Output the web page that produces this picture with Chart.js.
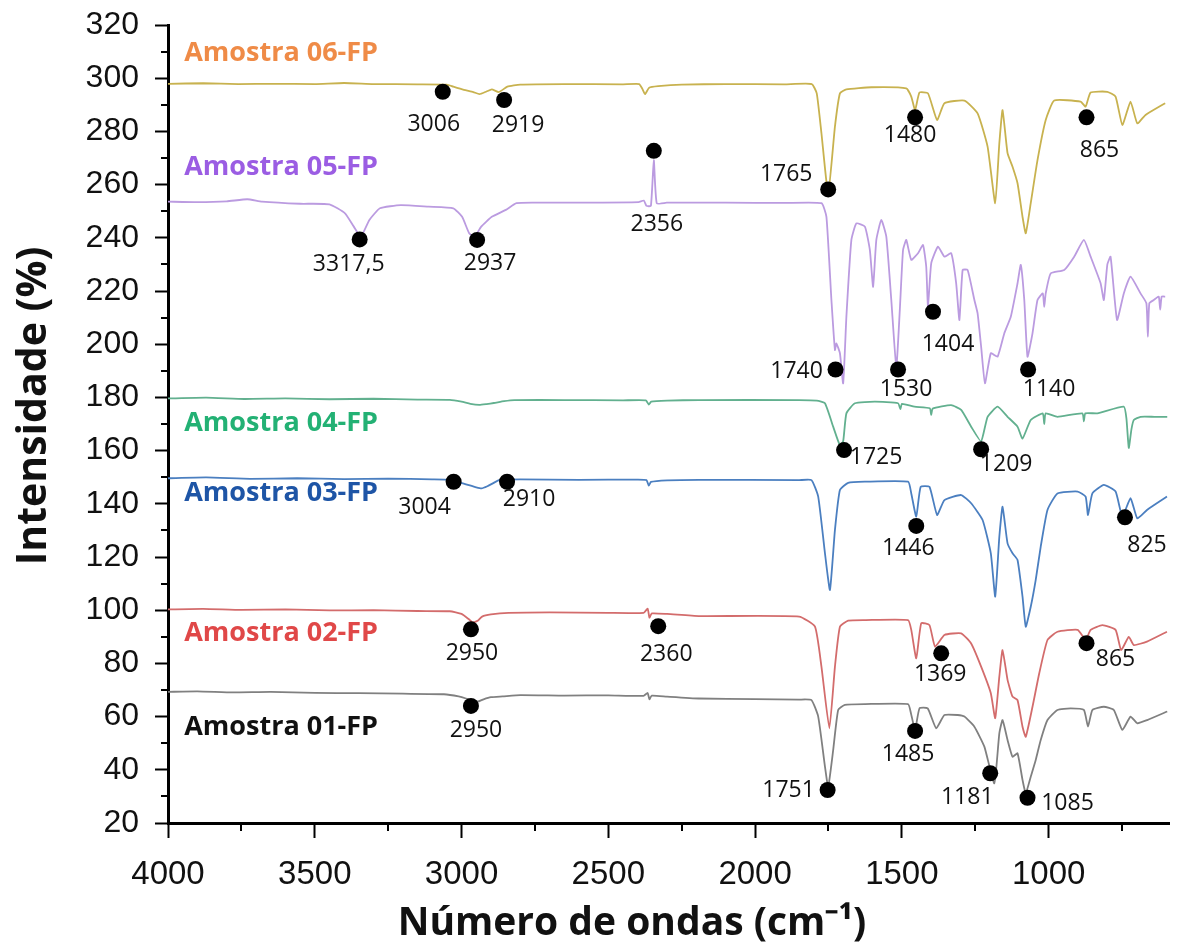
<!DOCTYPE html>
<html>
<head>
<meta charset="utf-8">
<script src="https://cdn.jsdelivr.net/npm/chart.js@4.4.1/dist/chart.umd.min.js"></script>
<style>
  html, body { margin: 0; padding: 0; background: #fff; }
  canvas { display: block; }
</style>
</head>
<body>
<canvas id="ftir" width="1177" height="949"></canvas>
<script>
// Spectra: [wavenumber cm-1, intensity %]
const amostra01 = [[4000,69.3],[3900,69.5],[3780,69.1],[3650,69.3],[3500,68.9],[3350,68.8],[3200,68.6],[3060,68.4],[3010,67.6],[2985,66.8],[2962,65.8],[2945,65.6],[2925,66.5],[2900,67.3],[2860,67.6],[2800,68.1],[2650,67.9],[2500,68.0],[2380,67.8],[2366,68.9],[2360,66.5],[2352,67.9],[2300,67.5],[2192,66.8],[2000,66.6],[1850,66.4],[1808,66.2],[1785,60.0],[1762,41.2],[1751,33.6],[1734,47.4],[1717,62.5],[1694,64.4],[1625,64.7],[1479,64.7],[1469,61.2],[1455,55.0],[1440,63.1],[1412,63.1],[1383,55.6],[1355,60.6],[1310,60.6],[1287,60.0],[1253,56.2],[1219,48.7],[1185,34.9],[1168,53.7],[1157,58.7],[1140,51.2],[1123,44.9],[1106,46.2],[1089,36.2],[1078,31.2],[1061,37.4],[1044,43.7],[1027,51.2],[1004,58.7],[970,62.5],[925,63.1],[880,62.5],[866,56.2],[851,62.5],[812,63.7],[778,62.5],[749,55.0],[721,60.0],[698,57.5],[664,58.7],[596,61.9]];

const amostra02 = [[4000,100.3],[3880,100.5],[3750,100.1],[3600,100.3],[3450,99.9],[3300,100.0],[3150,99.7],[3040,99.6],[3000,98.6],[2975,96.6],[2962,95.4],[2945,96.0],[2930,97.6],[2900,98.4],[2840,99.0],[2700,99.2],[2500,99.0],[2380,99.0],[2366,100.6],[2360,97.2],[2352,98.8],[2300,98.6],[2192,97.8],[1850,97.6],[1796,93.8],[1774,78.8],[1747,55.6],[1728,78.8],[1711,93.8],[1683,96.1],[1626,96.3],[1479,96.3],[1468,92.6],[1451,81.9],[1434,95.1],[1406,94.4],[1387,86.3],[1355,90.7],[1298,91.3],[1264,87.5],[1230,78.8],[1197,68.8],[1182,59.4],[1168,75.0],[1157,85.0],[1140,73.8],[1123,67.5],[1106,66.2],[1089,56.2],[1078,52.4],[1055,63.7],[1032,76.3],[1004,88.8],[970,91.9],[901,92.6],[874,88.8],[857,92.6],[817,94.4],[772,92.6],[753,85.0],[727,90.0],[710,86.9],[665,88.2],[597,91.9]];

const amostra03 = [[4000,149.6],[3870,149.9],[3720,149.4],[3560,149.6],[3400,149.3],[3250,149.5],[3100,149.2],[3040,149.0],[3005,148.0],[2975,147.0],[2950,146.2],[2932,145.8],[2912,146.6],[2895,147.6],[2870,149.0],[2800,149.2],[2600,149.0],[2400,149.1],[2370,148.9],[2362,146.8],[2355,148.2],[2300,148.8],[2192,149.0],[1850,148.9],[1808,148.9],[1785,142.7],[1762,121.4],[1745,107.6],[1728,130.2],[1711,145.2],[1683,147.9],[1626,148.3],[1479,148.3],[1468,143.9],[1451,135.2],[1436,146.4],[1406,146.4],[1380,135.8],[1355,141.4],[1298,143.3],[1264,140.2],[1225,133.9],[1197,121.4],[1182,105.1],[1168,127.6],[1157,138.9],[1140,125.1],[1123,121.4],[1106,118.9],[1089,105.1],[1078,93.8],[1061,101.3],[1044,111.4],[1027,123.9],[1004,137.7],[970,143.9],[901,144.6],[874,142.7],[866,135.8],[851,143.9],[812,147.1],[772,144.6],[749,135.2],[721,142.1],[698,134.5],[665,137.7],[597,142.7]];

const amostra04 = [[4000,179.6],[3870,179.9],[3740,179.4],[3600,179.6],[3450,179.3],[3300,179.5],[3150,179.2],[3040,179.1],[3000,178.4],[2970,177.6],[2940,177.2],[2915,177.5],[2890,177.9],[2855,178.6],[2820,179.0],[2650,179.0],[2450,178.9],[2372,178.9],[2362,177.3],[2354,178.4],[2300,178.8],[2192,179.0],[1850,179.0],[1790,178.8],[1762,177.8],[1734,169.0],[1711,162.0],[1700,163.5],[1689,174.0],[1660,177.8],[1592,178.4],[1513,177.8],[1505,175.6],[1500,177.6],[1457,176.5],[1405,175.9],[1400,173.4],[1395,175.8],[1332,177.1],[1298,175.3],[1264,169.0],[1230,163.5],[1208,172.7],[1174,176.5],[1140,172.7],[1106,169.0],[1089,164.5],[1061,171.5],[1020,174.0],[1015,170.0],[1010,174.0],[970,172.7],[885,174.0],[880,171.0],[875,174.0],[834,174.0],[744,176.5],[735,172.0],[727,161.0],[718,168.0],[710,171.5],[687,172.7],[640,172.7],[596,172.7]];

const amostra05 = [[4000,253.6],[3900,253.4],[3800,253.7],[3730,254.5],[3680,253.6],[3550,252.8],[3450,252.6],[3397,249.2],[3367,244.2],[3343,240.4],[3314,246.7],[3278,251.1],[3207,252.3],[3112,251.7],[3028,251.1],[2998,247.9],[2974,241.7],[2956,240.4],[2933,244.2],[2897,247.9],[2849,250.5],[2813,253.0],[2753,253.2],[2600,253.2],[2397,253.4],[2379,254.0],[2370,252.0],[2355,252.0],[2345,269.2],[2335,253.0],[2301,253.2],[2100,253.2],[1900,253.1],[1774,253.0],[1757,247.9],[1740,216.6],[1728,197.8],[1723,200.3],[1711,196.6],[1700,185.3],[1689,210.3],[1672,239.2],[1655,245.4],[1626,244.2],[1609,235.4],[1598,221.6],[1587,239.2],[1570,246.7],[1553,240.4],[1536,216.6],[1519,191.5],[1507,212.9],[1496,235.4],[1485,239.2],[1468,231.7],[1445,234.2],[1428,237.3],[1417,229.1],[1411,214.1],[1400,230.4],[1377,236.7],[1355,232.9],[1332,234.2],[1315,222.9],[1304,209.1],[1293,227.9],[1276,227.9],[1253,216.6],[1242,211.6],[1230,199.1],[1217,185.3],[1197,196.6],[1174,195.3],[1151,204.1],[1129,210.3],[1106,222.9],[1095,229.8],[1083,216.6],[1072,195.3],[1055,204.1],[1038,216.6],[1020,219.1],[1015,214.0],[1010,219.1],[993,226.6],[947,227.9],[913,232.9],[880,239.2],[857,232.9],[823,222.9],[812,216.6],[800,230.0],[789,232.9],[767,209.1],[744,219.1],[721,225.4],[687,219.1],[667,215.4],[662,202.8],[657,215.4],[642,216.6],[625,217.9],[620,213.0],[615,217.9],[603,217.9]];

const amostra06 = [[4000,297.9],[3880,298.1],[3760,297.8],[3640,297.9],[3500,297.8],[3400,298.2],[3300,297.8],[3150,297.7],[3050,297.6],[3028,296.8],[2992,295.6],[2960,294.8],[2939,294.0],[2915,295.0],[2897,295.8],[2873,294.8],[2844,296.8],[2800,297.6],[2650,297.8],[2450,297.7],[2395,297.8],[2385,296.2],[2375,294.0],[2361,296.4],[2330,297.0],[2250,297.6],[2100,297.8],[1900,297.7],[1807,297.8],[1790,294.3],[1774,279.3],[1751,256.7],[1728,281.8],[1711,294.3],[1689,295.8],[1604,296.6],[1485,296.2],[1468,293.1],[1455,288.0],[1440,294.6],[1411,294.3],[1380,284.3],[1355,290.6],[1287,291.6],[1242,286.8],[1208,274.3],[1182,253.0],[1168,275.5],[1157,288.0],[1140,271.8],[1123,266.7],[1106,260.5],[1089,247.9],[1078,241.7],[1061,253.0],[1038,269.2],[1010,284.3],[981,291.6],[891,291.2],[874,289.3],[857,294.6],[800,294.9],[772,293.1],[749,282.4],[721,291.2],[698,283.0],[670,286.2],[603,290.6]];

const sampleNames = ["Amostra 01-FP", "Amostra 02-FP", "Amostra 03-FP", "Amostra 04-FP", "Amostra 05-FP", "Amostra 06-FP"];
const sampleNameX = [3945, 3945, 3945, 3945, 3945, 3945];
const sampleNameY = [56, 91.4, 144, 170.4, 266.6, 309.5];

// peak markers
const peakWave = [3064, 2855, 2345, 3347, 2947, 1751, 1455, 871, 1726, 1513, 1394, 1070, 1697, 1230, 3027, 2845, 1451, 740, 2968, 2330, 1366, 871, 2968, 1455, 1753, 1199, 1072];
const peakInt = [294.9, 291.8, 272.7, 239.4, 239.2, 258.2, 285.3, 285.3, 190.5, 190.5, 212.2, 190.5, 160.2, 160.5, 148.3, 148.3, 131.7, 134.9, 92.8, 94, 83.8, 87.6, 64, 54.6, 32.4, 38.7, 29.5];
const peakText = ["3006", "2919", "2356", "3317,5", "2937", "1765", "1480", "865", "1740", "1530", "1404", "1140", "1725", "1209", "3004", "2910", "1446", "825", "2950", "2360", "1369", "865", "2950", "1485", "1751", "1181", "1085"];

const xMajor = [4000, 3500, 3000, 2500, 2000, 1500, 1000];
const xMinor = [3750, 3250, 2750, 2250, 1750, 1250, 750];
const xTitle = "Número de ondas (cm⁻¹)";
const yTitle = "Intensidade (%)";

// styling
const lineColors = ["#808080", "#d36c6c", "#4b7fc0", "#62b08f", "#bb9be0", "#c8b24f"];
const nameColors = ["#111111", "#e04848", "#1e55a6", "#23b174", "#9b5de3", "#ef8b47"];
const labelShift = [[-9,33],[14,25],[3,74],[-11,25],[13,24],[-42,-15],[-5,18],[13,33],[-39,2],[8,20],[15,33],[21,20],[32,7],[25,15],[-29,26],[22,18],[-8,23],[22,28],[1,24],[8,28],[-1,21],[29,16],[5,24],[-7,23],[-39,0],[-23,24],[40,6]];

const spectra = [amostra01, amostra02, amostra03, amostra04, amostra05, amostra06];

const datasets = [{
  type: "scatter",
  data: peakWave.map((w, i) => ({ x: w, y: peakInt[i] })),
  pointRadius: 8,
  pointBackgroundColor: "#000",
  pointBorderWidth: 0,
}];
spectra.forEach((s, i) => {
  datasets.push({
    type: "line",
    data: s.map(([x, y]) => ({ x, y })),
    borderColor: lineColors[i],
    borderWidth: 1.8,
    pointRadius: 0,
    tension: 0.15,
  });
});

// short minor ticks + text annotations + axis titles
const extras = {
  id: "extras",
  afterDraw(chart) {
    const { ctx, scales: { x, y } } = chart;
    ctx.save();
    ctx.strokeStyle = "#000";
    ctx.lineWidth = 2;
    ctx.beginPath();
    xMinor.forEach((v) => {
      const px = Math.round(x.getPixelForValue(v));
      ctx.moveTo(px, y.bottom);
      ctx.lineTo(px, y.bottom + 8);
    });
    for (let v = 30; v < 320; v += 20) {
      const py = Math.round(y.getPixelForValue(v));
      ctx.moveTo(x.left, py);
      ctx.lineTo(x.left - 7, py);
    }
    ctx.stroke();

    ctx.textAlign = "center";
    ctx.textBaseline = "middle";
    ctx.font = '23px "Open Sans"';
    ctx.fillStyle = "#111";
    peakText.forEach((t, i) => {
      const px = x.getPixelForValue(peakWave[i]) + labelShift[i][0];
      const py = y.getPixelForValue(peakInt[i]) + labelShift[i][1];
      ctx.fillText(t, px, py);
    });

    ctx.textAlign = "left";
    ctx.font = 'bold 27px "Open Sans"';
    sampleNames.forEach((n, i) => {
      ctx.fillStyle = nameColors[i];
      ctx.fillText(n, x.getPixelForValue(sampleNameX[i]), y.getPixelForValue(sampleNameY[i]));
    });

    ctx.textAlign = "center";
    ctx.fillStyle = "#111";
    ctx.font = 'bold 39px "Open Sans"';
    ctx.fillText(xTitle, 632, 924);

    ctx.translate(34, 406);
    ctx.rotate(-Math.PI / 2);
    ctx.font = 'bold 41px "Open Sans"';
    ctx.fillText(yTitle, 0, 0);
    ctx.restore();
  },
};

new Chart(document.getElementById("ftir"), {
  data: { datasets },
  options: {
    responsive: false,
    animation: false,
    layout: { padding: { top: 25, right: 5, left: 0, bottom: 0 } },
    plugins: { legend: { display: false }, tooltip: { enabled: false } },
    scales: {
      x: {
        type: "linear",
        reverse: true,
        min: 590,
        max: 4000,
        afterBuildTicks: (scale) => {
          scale.ticks = xMajor.map((v) => ({ value: v }));
        },
        afterFit: (scale) => { scale.height = 126; },
        grid: { drawOnChartArea: false, tickLength: 15, tickWidth: 2, tickColor: "#000" },
        border: { color: "#000", width: 3 },
        ticks: {
          autoSkip: false,
          maxRotation: 0,
          padding: 17,
          color: "#111",
          font: { family: "Liberation Sans", size: 33 },
          callback: (v) => String(v),
        },
      },
      y: {
        type: "linear",
        min: 20,
        max: 320,
        afterBuildTicks: (scale) => {
          const t = [];
          for (let v = 20; v <= 320; v += 20) t.push({ value: v });
          scale.ticks = t;
        },
        afterFit: (scale) => { scale.width = 168; },
        grid: { drawOnChartArea: false, tickLength: 13, tickWidth: 2, tickColor: "#000" },
        border: { color: "#000", width: 3 },
        ticks: {
          autoSkip: false,
          padding: 16,
          color: "#111",
          font: { family: "Liberation Sans", size: 32, lineHeight: 0.56 },
          callback: (v) => String(v),
        },
      },
    },
  },
  plugins: [extras],
});
</script>
</body>
</html>
